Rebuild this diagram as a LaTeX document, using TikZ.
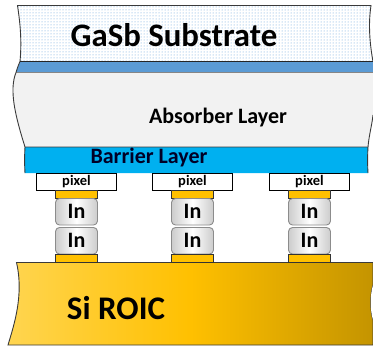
\documentclass[tikz,border=0pt]{standalone}
\usepackage{fontspec}
\setmainfont{Carlito}
\usetikzlibrary{patterns, positioning}
\definecolor{substrateblue}{HTML}{5A9AD8}
\definecolor{bandblue}{HTML}{5B9BD5}
\definecolor{absorbergray}{HTML}{F2F2F2}
\definecolor{barrierblue}{HTML}{00B0F0}
\definecolor{padorange}{HTML}{FFC000}
\definecolor{roicleft}{HTML}{FFD550}
\definecolor{roicright}{HTML}{C49400}
\definecolor{edgegray}{HTML}{3A3A3A}
\tikzstyle{layer} = [draw=edgegray, line width=0.9pt]
\tikzstyle{pixelbox} = [draw=black, fill=white, line width=0.9pt, outer sep=0pt, minimum width=80pt, minimum height=17pt, inner sep=0pt, font=\bfseries\fontsize{14.5}{14.5}\selectfont]
\tikzstyle{pad} = [draw=black!80, fill=padorange, line width=0.9pt, outer sep=0pt, minimum width=42.5pt, minimum height=8pt, inner sep=0pt]
\tikzstyle{indium} = [draw=black!45, rounded corners=4pt, left color=black!20, right color=black!20, middle color=white, line width=0.9pt, outer sep=0pt, minimum width=42pt, minimum height=26.5pt, inner sep=0pt, font=\bfseries\fontsize{22}{22}\selectfont]

\begin{document}
\begin{tikzpicture}[x=1pt, y=-1pt]
    \useasboundingbox (0,0) rectangle (373,349);

    % Layers of the wafer
    \draw [layer, pattern=dots, pattern color=substrateblue] (17.5,5.5) .. controls (20,22) and (22,40) .. (20,61.5) -- (373,61.5) .. controls (370,45) and (368,25) .. (371,5.5) -- cycle;
    \fill [bandblue] (20,62) .. controls (19,65) and (17,68) .. (16,72.5) -- (373,72.5) -- (373,62) -- cycle;
    \draw [draw=black!70, line width=0.7pt] (16,72.5) -- (373,72.5);
    \draw [layer, draw=black!85] (20,61.5) -- (373,61.5);
    \fill [absorbergray] (16,72.5) .. controls (9,90) and (15,115) .. (25,147) -- (368,147) .. controls (369,135) and (372,125) .. (373,115) -- (373,72.5) -- cycle;
    \draw [layer] (20,61.5) .. controls (18,66) and (17,69) .. (16,72.5) .. controls (9,90) and (15,115) .. (25,147);
    \draw [layer] (373,115) .. controls (372,125) and (369,135) .. (368,147);
    \draw [layer, fill=barrierblue] (25,173) .. controls (24.5,165) and (24.5,155) .. (25,147) -- (368,147) .. controls (367.5,155) and (367.5,165) .. (368,173);
    \shade [layer, left color=roicleft, right color=roicright, middle color=padorange] (16.5,262.5) -- (373,262.5) -- (373,285) .. controls (370,295) and (370,310) .. (373,320) -- (373,345) -- (8,345) .. controls (14,325) and (24,295) .. cycle;
    \fill [white] (373,285) .. controls (370,295) and (370,310) .. (373,320) -- cycle;

    % Place the labels
    \node [font=\bfseries\fontsize{32.8}{32.8}\selectfont] (substrate) at (174,35) {GaSb Substrate};
    \node [font=\bfseries\fontsize{22}{22}\selectfont] (absorber) at (218,118) {Absorber Layer};
    \node [font=\bfseries\fontsize{22}{22}\selectfont, text=black!85!blue] (barrier) at (149,158) {Barrier Layer};
    \node [font=\bfseries\fontsize{33}{33}\selectfont] (roic) at (116,308) {Si ROIC};

    % Place the pixel stacks
    \foreach \i/\x in {1/76.5, 2/192.5, 3/309.5} {
        \node [pixelbox] (pixel\i) at (\x,181.5) {pixel};
        \node [pad, below=0pt of pixel\i] (padtop\i) {};
        \node [indium, below=0.5pt of padtop\i] (upper\i) {In};
        \node [indium, below=2.5pt of upper\i] (lower\i) {In};
        \node [pad, below=0.5pt of lower\i] (padbottom\i) {};
    }
  \end{tikzpicture}
\end{document}
